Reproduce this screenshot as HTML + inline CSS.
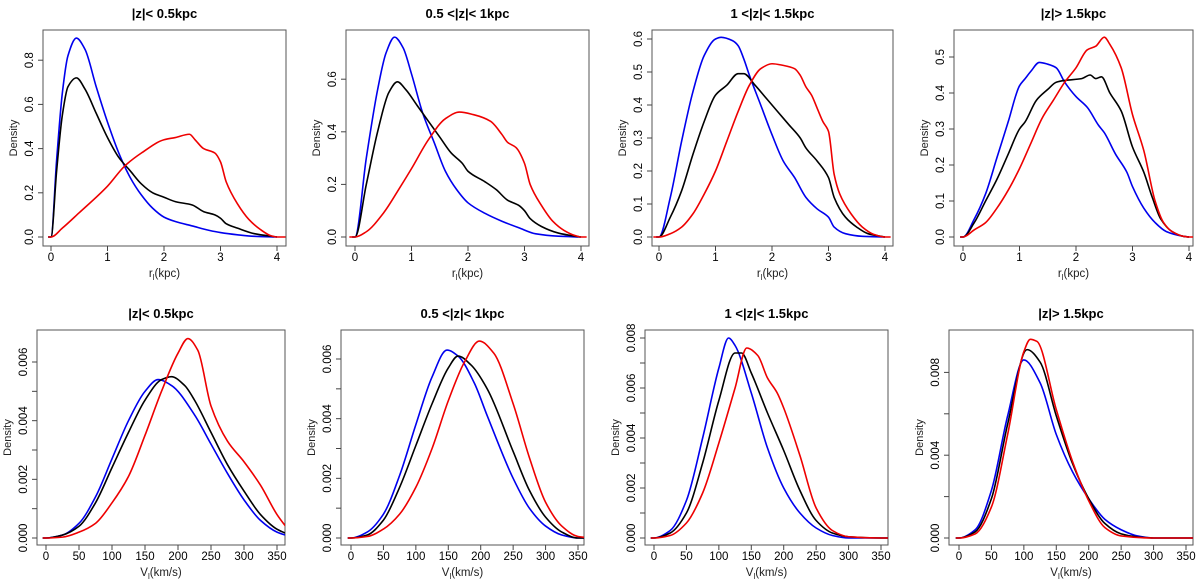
<!DOCTYPE html>
<html><head><meta charset="utf-8"><style>
html,body{margin:0;padding:0;background:#fff;}
svg{display:block;font-family:"Liberation Sans",sans-serif;}
</style></head><body>
<svg id="chart" width="1200" height="581" viewBox="0 0 1200 581" xmlns="http://www.w3.org/2000/svg"></svg>
<script>
// ---------- data ----------
const topTitles = ["|z|< 0.5kpc", "0.5 <|z|< 1kpc", "1 <|z|< 1.5kpc", "|z|> 1.5kpc"];
const topXTicks = [0, 1, 2, 3, 4];
const botXTicks = [0, 50, 100, 150, 200, 250, 300, 350];
const p1YTicks = [0, 0.2, 0.4, 0.6, 0.8];
const p2YTicks = [0, 0.2, 0.4, 0.6];
const p3YTicks = [0, 0.1, 0.2, 0.3, 0.4, 0.5, 0.6];
const p4YTicks = [0, 0.1, 0.2, 0.3, 0.4, 0.5];
const b12YTicks = [0, 0.001, 0.002, 0.003, 0.004, 0.005, 0.006];
const b12YLabels = ["0.000", "", "0.002", "", "0.004", "", "0.006"];
const b3YTicks = [0, 0.001, 0.002, 0.003, 0.004, 0.005, 0.006, 0.007, 0.008];
const b3YLabels = ["0.000", "", "0.002", "", "0.004", "", "0.006", "", "0.008"];
const b4YTicks = [0, 0.002, 0.004, 0.006, 0.008];
const b4YLabels = ["0.000", "", "0.004", "", "0.008"];

const p1Blue = [[-0.05,0],[0,0],[0.1,0.35],[0.2,0.65],[0.3,0.82],[0.45,0.90],[0.6,0.85],[0.8,0.68],[1.0,0.52],[1.2,0.38],[1.4,0.27],[1.6,0.19],[1.8,0.13],[2.0,0.09],[2.2,0.07],[2.5,0.05],[2.8,0.03],[3.0,0.02],[3.3,0.01],[3.6,0.003],[4.0,0]];
const p1Black = [[-0.05,0],[0,0],[0.1,0.3],[0.2,0.55],[0.3,0.68],[0.45,0.72],[0.6,0.67],[0.8,0.56],[1.0,0.45],[1.2,0.36],[1.4,0.30],[1.6,0.24],[1.8,0.20],[2.0,0.18],[2.2,0.16],[2.5,0.145],[2.7,0.115],[2.9,0.10],[3.0,0.085],[3.1,0.06],[3.3,0.04],[3.6,0.015],[4.0,0]];
const p1Red = [[-0.05,0],[0,0],[0.2,0.04],[0.5,0.11],[1.0,0.23],[1.3,0.32],[1.6,0.38],[2.0,0.44],[2.2,0.45],[2.45,0.465],[2.55,0.44],[2.7,0.40],[2.9,0.38],[3.0,0.34],[3.1,0.25],[3.3,0.15],[3.5,0.08],[3.7,0.035],[3.9,0.005],[4.0,0],[4.15,0]];

const p2Blue = [[-0.05,0],[0,0],[0.2,0.3],[0.4,0.56],[0.55,0.70],[0.7,0.76],[0.85,0.72],[1.0,0.62],[1.2,0.47],[1.4,0.36],[1.6,0.25],[1.8,0.18],[2.0,0.13],[2.3,0.09],[2.6,0.06],[2.9,0.035],[3.2,0.012],[3.6,0.003],[4.0,0]];
const p2Black = [[-0.05,0],[0,0],[0.2,0.2],[0.4,0.40],[0.6,0.55],[0.75,0.59],[0.9,0.56],[1.1,0.50],[1.3,0.44],[1.5,0.38],[1.7,0.32],[1.9,0.28],[2.0,0.25],[2.3,0.21],[2.5,0.18],[2.7,0.14],[2.9,0.12],[3.0,0.10],[3.1,0.07],[3.3,0.04],[3.6,0.015],[3.9,0.003],[4.0,0]];
const p2Red = [[-0.1,0],[0,0],[0.2,0.02],[0.5,0.09],[0.8,0.19],[1.0,0.26],[1.3,0.37],[1.6,0.45],[1.85,0.475],[2.1,0.465],[2.4,0.44],[2.6,0.39],[2.7,0.36],[2.85,0.34],[3.0,0.28],[3.1,0.2],[3.3,0.12],[3.5,0.06],[3.7,0.025],[3.9,0.005],[4.0,0],[4.1,0]];

const p3Blue = [[-0.05,0],[0,0],[0.2,0.12],[0.4,0.29],[0.6,0.44],[0.8,0.55],[1.0,0.60],[1.1,0.605],[1.3,0.595],[1.4,0.58],[1.5,0.54],[1.6,0.49],[1.8,0.40],[2.0,0.31],[2.2,0.23],[2.4,0.18],[2.6,0.12],[2.8,0.085],[3.0,0.06],[3.1,0.03],[3.3,0.01],[3.6,0.002],[4.0,0]];
const p3Black = [[-0.05,0],[0,0],[0.2,0.06],[0.4,0.14],[0.6,0.25],[0.8,0.35],[1.0,0.43],[1.2,0.46],[1.4,0.495],[1.5,0.495],[1.7,0.46],[1.9,0.42],[2.1,0.38],[2.3,0.34],[2.5,0.30],[2.6,0.27],[2.8,0.23],[3.0,0.18],[3.1,0.12],[3.3,0.06],[3.5,0.03],[3.7,0.01],[3.9,0.003],[4.0,0]];
const p3Red = [[-0.1,0],[0,0],[0.2,0.01],[0.4,0.03],[0.6,0.07],[0.8,0.13],[1.0,0.20],[1.2,0.29],[1.4,0.38],[1.6,0.46],[1.8,0.51],[2.0,0.525],[2.2,0.52],[2.4,0.51],[2.5,0.49],[2.6,0.455],[2.7,0.43],[2.8,0.39],[2.9,0.35],[3.0,0.32],[3.1,0.19],[3.2,0.13],[3.4,0.07],[3.6,0.03],[3.8,0.008],[4.0,0],[4.1,0]];

const p4Blue = [[-0.05,0],[0,0],[0.2,0.05],[0.4,0.12],[0.6,0.22],[0.8,0.32],[1.0,0.42],[1.1,0.44],[1.2,0.46],[1.35,0.485],[1.5,0.48],[1.65,0.47],[1.8,0.43],[2.0,0.39],[2.2,0.36],[2.4,0.31],[2.5,0.29],[2.7,0.23],[2.9,0.18],[3.0,0.14],[3.2,0.08],[3.4,0.04],[3.6,0.015],[3.9,0.002],[4.0,0]];
const p4Black = [[-0.05,0],[0,0],[0.2,0.04],[0.4,0.10],[0.6,0.16],[0.8,0.23],[1.0,0.30],[1.1,0.32],[1.3,0.38],[1.5,0.41],[1.65,0.43],[1.8,0.435],[2.1,0.44],[2.25,0.45],[2.35,0.44],[2.45,0.445],[2.6,0.40],[2.8,0.35],[3.0,0.25],[3.2,0.18],[3.35,0.11],[3.5,0.05],[3.7,0.015],[3.9,0.002],[4.0,0]];
const p4Red = [[-0.05,0],[0,0],[0.2,0.02],[0.4,0.04],[0.6,0.08],[0.8,0.13],[1.0,0.19],[1.2,0.26],[1.4,0.33],[1.6,0.38],[1.8,0.43],[2.0,0.47],[2.2,0.52],[2.35,0.53],[2.5,0.555],[2.6,0.535],[2.8,0.47],[3.0,0.34],[3.2,0.24],[3.4,0.10],[3.55,0.04],[3.7,0.015],[3.9,0.002],[4.0,0],[4.1,0]];

const b1Blue = [[-5,0],[0,0],[25,0.0001],[50,0.0005],[75,0.0014],[100,0.0027],[125,0.0040],[150,0.0050],[170,0.0054],[190,0.0052],[225,0.0042],[250,0.0032],[275,0.0022],[300,0.0013],[325,0.0006],[350,0.0002],[370,0.00005]];
const b1Black = [[-5,0],[0,0],[25,0.0001],[50,0.0004],[75,0.0012],[100,0.0024],[125,0.0036],[150,0.0047],[175,0.0054],[190,0.0055],[210,0.0052],[225,0.0047],[250,0.0036],[275,0.0025],[300,0.0016],[325,0.0008],[350,0.0003],[370,0.0001]];
const b1Red = [[-5,0],[0,0],[25,0.00003],[50,0.0002],[75,0.0005],[100,0.0012],[125,0.0021],[150,0.0035],[175,0.0050],[200,0.0063],[215,0.0068],[230,0.0064],[250,0.0045],[275,0.0033],[300,0.0026],[325,0.0018],[350,0.0008],[370,0.0002]];

const b2Blue = [[-5,0],[0,0],[25,0.0002],[50,0.0008],[75,0.0021],[100,0.0038],[125,0.0054],[148,0.0063],[165,0.0061],[190,0.0052],[210,0.0041],[250,0.0020],[275,0.0010],[300,0.0004],[325,0.0001],[350,0],[370,0]];
const b2Black = [[-5,0],[0,0],[25,0.0001],[50,0.0006],[75,0.0017],[100,0.0031],[125,0.0045],[150,0.0057],[165,0.0061],[185,0.0058],[210,0.0050],[250,0.0029],[275,0.0016],[300,0.0007],[325,0.0002],[350,0],[370,0]];
const b2Red = [[-5,0],[0,0],[25,0.00005],[50,0.0003],[75,0.0008],[100,0.0017],[125,0.0030],[150,0.0046],[175,0.0059],[198,0.0066],[220,0.0062],[250,0.0045],[275,0.0027],[300,0.0012],[325,0.0004],[350,0.00005],[370,0]];

const b3Blue = [[-5,0],[0,0],[25,0.0003],[50,0.0015],[75,0.0040],[100,0.0068],[115,0.0080],[125,0.0077],[150,0.0058],[175,0.0036],[200,0.0020],[225,0.0010],[250,0.0004],[275,0.0001],[300,0],[370,0]];
const b3Black = [[-5,0],[0,0],[25,0.0002],[50,0.0010],[75,0.0030],[100,0.0055],[125,0.0074],[135,0.0074],[150,0.0066],[175,0.0050],[200,0.0035],[225,0.0019],[250,0.0007],[275,0.0002],[300,0.00005],[350,0],[370,0]];
const b3Red = [[-5,0],[0,0],[25,0.0001],[50,0.0006],[75,0.0018],[100,0.0038],[125,0.0060],[143,0.0076],[160,0.0073],[175,0.0064],[190,0.0058],[200,0.0052],[225,0.0033],[250,0.0012],[275,0.0003],[300,0.00005],[350,0],[370,0]];

const b4Blue = [[-5,0],[0,0],[25,0.0004],[50,0.0023],[75,0.0059],[100,0.0086],[125,0.0075],[150,0.0050],[175,0.0032],[200,0.0019],[225,0.0009],[250,0.0004],[275,0.0001],[300,0],[370,0]];
const b4Black = [[-5,0],[0,0],[25,0.0003],[50,0.0019],[75,0.0055],[105,0.0091],[125,0.0085],[150,0.0059],[175,0.0036],[200,0.0019],[225,0.0007],[250,0.0002],[275,0.00005],[300,0],[370,0]];
const b4Red = [[-5,0],[0,0],[25,0.0002],[50,0.0015],[75,0.0050],[100,0.0090],[110,0.0096],[120,0.0095],[150,0.0062],[175,0.0037],[200,0.0018],[225,0.0005],[250,0.0001],[300,0],[370,0]];

// ---------- layout ----------
const svg = document.getElementById('chart');
const NS = 'http://www.w3.org/2000/svg';
function mk(tag, attrs, parent){
  const e = document.createElementNS(NS, tag);
  for (const k in attrs) e.setAttribute(k, attrs[k]);
  (parent || svg).appendChild(e);
  return e;
}
function fmt(v, dec){ return v.toFixed(dec); }

const panels = [
  {name:'top-panel-1', title:topTitles[0], bl:43, br:286, bt:30, bb:246, xpa:51, xpb:277, xb:4, y0:237, yk:221, xt:topXTicks, yt:p1YTicks, yl:p1YTicks.map(v=>fmt(v,1)), series:[p1Blue,p1Black,p1Red], kind:'r'},
  {name:'top-panel-2', title:topTitles[1], bl:346, br:589, bt:30, bb:246, xpa:355, xpb:581, xb:4, y0:237, yk:263, xt:topXTicks, yt:p2YTicks, yl:p2YTicks.map(v=>fmt(v,1)), series:[p2Blue,p2Black,p2Red], kind:'r'},
  {name:'top-panel-3', title:topTitles[2], bl:652, br:893, bt:30, bb:246, xpa:659, xpb:885, xb:4, y0:237, yk:330, xt:topXTicks, yt:p3YTicks, yl:p3YTicks.map(v=>fmt(v,1)), series:[p3Blue,p3Black,p3Red], kind:'r'},
  {name:'top-panel-4', title:topTitles[3], bl:954, br:1193, bt:30, bb:246, xpa:963, xpb:1189, xb:4, y0:237, yk:360, xt:topXTicks, yt:p4YTicks, yl:p4YTicks.map(v=>fmt(v,1)), series:[p4Blue,p4Black,p4Red], kind:'r'},
  {name:'bottom-panel-1', title:topTitles[0], bl:37, br:285, bt:330, bb:545, xpa:46, xpb:277, xb:350, y0:538, yk:29333, xt:botXTicks, yt:b12YTicks, yl:b12YLabels, series:[b1Blue,b1Black,b1Red], kind:'v'},
  {name:'bottom-panel-2', title:topTitles[1], bl:341, br:584, bt:330, bb:545, xpa:351, xpb:578, xb:350, y0:538, yk:29833, xt:botXTicks, yt:b12YTicks, yl:b12YLabels, series:[b2Blue,b2Black,b2Red], kind:'v'},
  {name:'bottom-panel-3', title:topTitles[2], bl:645, br:888, bt:330, bb:545, xpa:654, xpb:881, xb:350, y0:538, yk:25000, xt:botXTicks, yt:b3YTicks, yl:b3YLabels, series:[b3Blue,b3Black,b3Red], kind:'v'},
  {name:'bottom-panel-4', title:topTitles[3], bl:949, br:1193, bt:330, bb:545, xpa:959, xpb:1186, xb:350, y0:538, yk:20700, xt:botXTicks, yt:b4YTicks, yl:b4YLabels, series:[b4Blue,b4Black,b4Red], kind:'v'}
];
const colors = ['#0000ee','#000000','#ee0000'];
const seriesNames = ['blue','black','red'];

// monotone cubic (Fritsch-Carlson) - no overshoot
function smoothPath(pts){
  const n = pts.length;
  const dx = [], sl = [];
  for (let i = 0; i < n-1; i++){ dx.push(pts[i+1][0]-pts[i][0]); sl.push((pts[i+1][1]-pts[i][1])/dx[i]); }
  const m = new Array(n);
  m[0] = sl[0]; m[n-1] = sl[n-2];
  for (let i = 1; i < n-1; i++){
    if (sl[i-1]*sl[i] <= 0) m[i] = 0;
    else { const w1 = 2*dx[i]+dx[i-1], w2 = dx[i]+2*dx[i-1]; m[i] = (w1+w2)/(w1/sl[i-1]+w2/sl[i]); }
  }
  let d = 'M' + pts[0][0].toFixed(2) + ',' + pts[0][1].toFixed(2);
  for (let i = 0; i < n-1; i++){
    const h = dx[i]/3;
    d += ' C' + (pts[i][0]+h).toFixed(2)+','+(pts[i][1]+m[i]*h).toFixed(2)+' '+(pts[i+1][0]-h).toFixed(2)+','+(pts[i+1][1]-m[i+1]*h).toFixed(2)+' '+pts[i+1][0].toFixed(2)+','+pts[i+1][1].toFixed(2);
  }
  return d;
}

panels.forEach((p, pi) => {
  const g = mk('g', {});
  
  
  const xs = v => p.xpa + (p.xpb - p.xpa) * v / p.xb;
  const ys = v => p.y0 - v * p.yk;
  const cx = (p.bl + p.br) / 2;

  const clipId = 'clip' + pi;
  const cp = mk('clipPath', {id: clipId}, g);
  mk('rect', {x:p.bl, y:p.bt, width:p.br-p.bl, height:p.bb-p.bt}, cp);

  const t = mk('text', {x:cx, y:p.bt - 12, 'text-anchor':'middle', 'font-size':'13', 'font-weight':'bold', fill:'#000'}, g);
  t.textContent = p.title;
  
  

  const box = mk('rect', {x:p.bl, y:p.bt, width:p.br-p.bl, height:p.bb-p.bt, fill:'none', stroke:'#555', 'stroke-width':'1'}, g);
  
  

  const xa = mk('g', {}, g);
  
  
  p.xt.forEach(v => {
    const x = xs(v);
    mk('line', {x1:x, y1:p.bb, x2:x, y2:p.bb+5, stroke:'#444', 'stroke-width':'1'}, xa);
    const tl = mk('text', {x:x, y:p.bb+15, 'text-anchor':'middle', 'font-size':'11.5', fill:'#000'}, xa);
    tl.textContent = String(v);
    
    
  });
  const xl = mk('text', {x:cx, y:p.bb+31, 'text-anchor':'middle', 'font-size':'11.5', fill:'#222'}, g);
  
  
  const s1 = mk('tspan', {}, xl); s1.textContent = p.kind === 'r' ? 'r' : 'V';
  const s2 = mk('tspan', {'font-size':'8', dy:'3'}, xl); s2.textContent = 'l';
  const s3 = mk('tspan', {dy:'-3'}, xl); s3.textContent = p.kind === 'r' ? '(kpc)' : '(km/s)';

  const ya = mk('g', {}, g);
  
  
  p.yt.forEach((v, i) => {
    const y = ys(v);
    mk('line', {x1:p.bl-5, y1:y, x2:p.bl, y2:y, stroke:'#444', 'stroke-width':'1'}, ya);
    if (p.yl[i]) {
      const lx = p.bl - 10;
      const tl = mk('text', {x:lx, y:y, 'text-anchor':'middle', 'font-size':'11.5', fill:'#000', transform:'rotate(-90 '+lx+' '+y+')'}, ya);
      tl.textContent = p.yl[i];
      
      
    }
  });
  const cy = (p.bt + p.bb) / 2;
  const ylx = p.bl - 26;
  const yl = mk('text', {x:ylx, y:cy, 'text-anchor':'middle', 'font-size':'11', fill:'#222', transform:'rotate(-90 '+ylx+' '+cy+')'}, g);
  yl.textContent = 'Density';
  
  

  const sg = mk('g', {'clip-path':'url(#'+clipId+')'}, g);
  p.series.forEach((ser, si) => {
    const pts = ser.map(d => [xs(d[0]), ys(d[1])]);
    const path = mk('path', {d:smoothPath(pts), fill:'none', stroke:colors[si], 'stroke-width':'1.6', 'stroke-linejoin':'round'}, sg);
    
    
  });
});
</script>
</body></html>
